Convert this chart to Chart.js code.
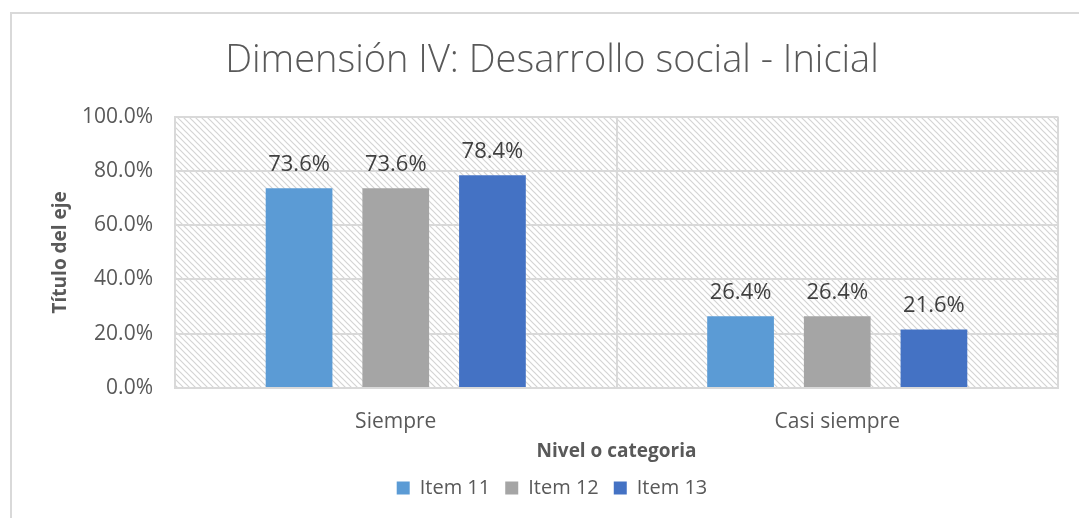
<!DOCTYPE html>
<html>
<head>
<meta charset="utf-8">
<script src="https://cdn.jsdelivr.net/npm/chart.js@4"></script>
<style>
  html, body { margin: 0; padding: 0; background: #fff; }
  #wrap { width: 1079px; height: 518px; }
</style>
</head>
<body>
<div id="wrap"><canvas id="myChart" width="1079" height="518"></canvas></div>
<script>
const categories = ['Siempre', 'Casi siempre'];
const seriesNames = ['Item 11', 'Item 12', 'Item 13'];
const item11 = [73.6, 26.4];
const item12 = [73.6, 26.4];
const item13 = [78.4, 21.6];
const yTicks = [0, 20, 40, 60, 80, 100];

const listColours = ['#5B9BD5', '#A5A5A5', '#4472C4'];

function makeHatch() {
    const c = document.createElement('canvas');
    c.width = 6;
    c.height = 6;
    const g = c.getContext('2d');
    g.fillStyle = '#ffffff';
    g.fillRect(0, 0, 6, 6);
    g.strokeStyle = '#d4d4d4';
    g.lineWidth = 1.2;
    g.beginPath();
    g.moveTo(-1, -1); g.lineTo(7, 7);
    g.moveTo(-7, -1); g.lineTo(1, 7);
    g.moveTo(5, -1); g.lineTo(13, 7);
    g.stroke();
    return g.createPattern(c, 'repeat');
}

// frame of the chart object + hatched plot area
const backdrop = {
    id: 'backdrop',
    beforeDraw(chart) {
        const {ctx, chartArea} = chart;
        ctx.save();
        ctx.strokeStyle = '#d9d9d9';
        ctx.lineWidth = 2;
        ctx.beginPath();
        ctx.moveTo(11, 518);
        ctx.lineTo(11, 13);
        ctx.lineTo(1079, 13);
        ctx.stroke();
        ctx.fillStyle = makeHatch();
        ctx.fillRect(chartArea.left, chartArea.top, chartArea.right - chartArea.left, chartArea.bottom - chartArea.top);
        ctx.restore();
    }
};

const valueLabels = {
    id: 'valueLabels',
    afterDatasetsDraw(chart) {
        const {ctx} = chart;
        ctx.save();
        ctx.font = '22px "Open Sans"';
        ctx.fillStyle = '#404040';
        ctx.textAlign = 'center';
        ctx.textBaseline = 'alphabetic';
        chart.data.datasets.forEach((ds, i) => {
            chart.getDatasetMeta(i).data.forEach((bar, j) => {
                ctx.fillText(ds.data[j].toFixed(1) + '%', bar.x, bar.y - 17);
            });
        });
        ctx.restore();
    }
};

function showChartJs() {
    const ctx = document.getElementById('myChart').getContext('2d');

    const data = {
        labels: categories,
        datasets: [item11, item12, item13].map((vals, i) => ({
            label: seriesNames[i],
            data: vals,
            backgroundColor: listColours[i],
            categoryPercentage: 0.657,
            barPercentage: 0.69,
        }))
    };

    new Chart(ctx, {
        type: 'bar',
        data: data,
        plugins: [backdrop, valueLabels],
        options: {
            responsive: false,
            animation: false,
            layout: {
                padding: {left: 46, right: 21, top: 0, bottom: 10}
            },
            plugins: {
                title: {
                    display: true,
                    text: 'Dimensión IV: Desarrollo social - Inicial',
                    color: '#595959',
                    font: {family: 'Open Sans', size: 38, weight: '300'},
                    padding: {top: 38, bottom: 33},
                },
                legend: {
                    position: 'bottom',
                    labels: {
                        color: '#595959',
                        font: {family: 'Open Sans', size: 20},
                        boxWidth: 13,
                        boxHeight: 13,
                        padding: 15,
                    }
                },
                tooltip: {enabled: false},
            },
            scales: {
                x: {
                    afterFit(scale) {
                        scale.height = 75;
                    },
                    grid: {color: '#d9d9d9', lineWidth: 2, drawTicks: false},
                    border: {color: '#d9d9d9', width: 2},
                    ticks: {
                        color: '#595959',
                        font: {family: 'Open Sans', size: 21},
                        padding: 21,
                    },
                    title: {
                        display: true,
                        text: 'Nivel o categoria',
                        color: '#595959',
                        font: {family: 'Open Sans', size: 19, weight: 'bold'},
                        padding: {top: 6, bottom: 0},
                    }
                },
                y: {
                    min: 0,
                    max: 100,
                    afterBuildTicks(scale) {
                        scale.ticks = yTicks.map(v => ({value: v}));
                    },
                    afterFit(scale) {
                        scale.width = 129;
                    },
                    grid: {color: '#d9d9d9', lineWidth: 2, drawTicks: false},
                    border: {color: '#d9d9d9', width: 2},
                    ticks: {
                        color: '#595959',
                        font: {family: 'Open Sans', size: 21},
                        padding: 22,
                        callback: v => v.toFixed(1) + '%',
                    },
                    title: {
                        display: true,
                        text: 'Título del eje',
                        color: '#595959',
                        font: {family: 'Open Sans', size: 19, weight: 'bold'},
                        padding: {top: 3, bottom: 0},
                    }
                }
            }
        }
    });
}

showChartJs();
</script>
</body>
</html>
